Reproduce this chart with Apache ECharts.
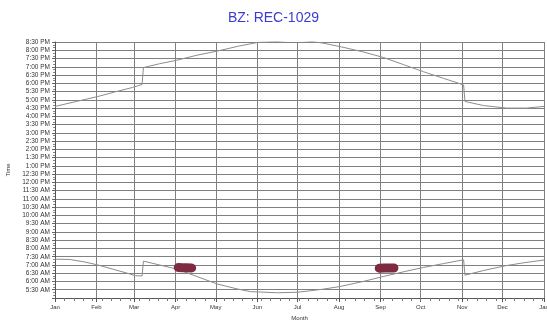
<!DOCTYPE html>
<html lang="en" style="height: 100%">

<head>
    <meta charset="utf-8">
    <script type="text/javascript" src="https://cdn.jsdelivr.net/npm/echarts@6/dist/echarts.min.js"></script>
</head>

<body style="height: 100%; margin: 0; background: #fff">
    <div id="chart" style="height: 321px; width: 547px"></div>

    <script type="text/javascript">
        // month names and the day of year where each month starts
        var months = ['Jan', 'Feb', 'Mar', 'Apr', 'May', 'Jun', 'Jul', 'Aug', 'Sep', 'Oct', 'Nov', 'Dec', 'Jan'];
        var monthStarts = [0, 31, 59, 90, 120, 151, 181, 212, 243, 273, 304, 334, 365];

        // [day of year, minutes after midnight]
        var sunset = [[0, 996], [16, 1014], [32, 1032], [45, 1049], [58, 1065], [65, 1076], [66, 1137],
            [78, 1151], [91, 1164], [106, 1182], [122, 1198], [137, 1215], [152, 1229], [166, 1232],
            [175, 1236], [185, 1235], [193, 1231], [200, 1226], [214, 1212], [230, 1194], [245, 1174],
            [260, 1148], [275, 1122], [290, 1098], [305, 1074], [306, 1014], [320, 999], [337, 990],
            [352, 990], [365, 996]];

        var sunrise = [[0, 441], [11, 440], [22, 431], [32, 420], [43, 405], [54, 390], [60, 381],
            [65, 380], [66, 434], [78, 420], [91, 405], [106, 378], [121, 351], [136, 333], [146, 323],
            [152, 322], [166, 319], [181, 321], [190, 326], [200, 332], [213, 342], [230, 360],
            [245, 378], [260, 395], [275, 411], [290, 425], [305, 439], [306, 383], [320, 400],
            [336, 417], [350, 428], [365, 438]];

        // the two recorded events (dark red marks)
        var eventSpring = [[92, 411], [95, 410], [98, 410], [102, 409]];
        var eventFall = [[242, 408], [246, 409], [250, 409], [253, 409]];

        // weekly minor ticks on the month axis
        var weekTicks = [];
        for (var d = 7; d < 365; d += 7) weekTicks.push(d);

        function timeLabel(v) {
            var h = Math.floor(v / 60), m = v % 60;
            var ap = h >= 12 ? 'PM' : 'AM';
            var hh = h % 12;
            if (hh === 0) hh = 12;
            return hh + ':' + (m < 10 ? '0' : '') + m + ' ' + ap;
        }

        var gridColor = '#808080';
        var font = 'Liberation Sans, Arial, sans-serif';

        var chart = echarts.init(document.getElementById('chart'), null, { renderer: 'canvas' });
        chart.setOption({
            animation: false,
            backgroundColor: '#fff',
            title: {
                text: 'BZ: REC-1029',
                left: 'center',
                top: 6,
                textStyle: { color: '#3b3bd4', fontSize: 14, fontWeight: 'normal', fontFamily: font }
            },
            grid: { left: 55, right: 3, top: 42, bottom: 23, outerBoundsMode: 'none' },
            xAxis: [{
                type: 'value',
                min: 0,
                max: 365,
                name: 'Month',
                nameLocation: 'middle',
                nameGap: 15,
                nameTextStyle: { fontSize: 6, color: '#333', fontFamily: font },
                axisLine: { lineStyle: { color: '#555' } },
                axisTick: { customValues: monthStarts, length: 4, lineStyle: { color: '#555' } },
                axisLabel: {
                    customValues: monthStarts,
                    fontSize: 6,
                    color: '#333',
                    fontFamily: font,
                    margin: 6,
                    formatter: function (v) { return months[monthStarts.indexOf(v)]; }
                },
                splitLine: { show: true, lineStyle: { color: gridColor, width: 1 } }
            }, {
                type: 'value',
                min: 0,
                max: 365,
                position: 'bottom',
                axisLine: { show: false },
                axisTick: { customValues: weekTicks, length: 3, lineStyle: { color: '#777' } },
                axisLabel: { show: false },
                splitLine: { show: false }
            }],
            yAxis: {
                type: 'value',
                min: 300,
                max: 1230,
                interval: 30,
                name: 'Time',
                nameLocation: 'middle',
                nameGap: 42,
                nameTextStyle: { fontSize: 6, color: '#333', fontFamily: font },
                axisLine: { show: true, lineStyle: { color: '#555' } },
                axisTick: { show: true, length: 3, lineStyle: { color: '#666' } },
                minorTick: { show: true, splitNumber: 3, length: 2, lineStyle: { color: '#888' } },
                axisLabel: {
                    fontSize: 6.5,
                    color: '#333',
                    fontFamily: font,
                    margin: 5,
                    showMinLabel: false,
                    formatter: timeLabel
                },
                splitLine: { show: true, lineStyle: { color: gridColor, width: 1 } }
            },
            series: [{
                name: 'Sunset',
                type: 'line',
                data: sunset,
                symbol: 'none',
                lineStyle: { color: '#8c8c8c', width: 1 }
            }, {
                name: 'Sunrise',
                type: 'line',
                data: sunrise,
                symbol: 'none',
                lineStyle: { color: '#8c8c8c', width: 1 }
            }, {
                name: 'Event spring',
                type: 'line',
                data: eventSpring,
                symbol: 'none',
                lineStyle: { color: '#7e2b42', width: 9, cap: 'round' }
            }, {
                name: 'Event fall',
                type: 'line',
                data: eventFall,
                symbol: 'none',
                lineStyle: { color: '#7e2b42', width: 9, cap: 'round' }
            }]
        });
    </script>
</body>

</html>
